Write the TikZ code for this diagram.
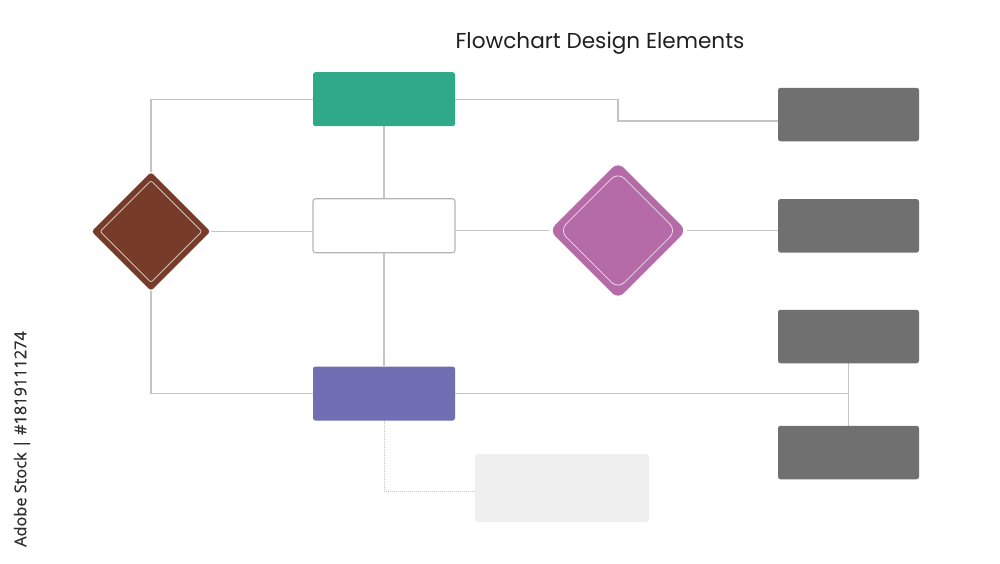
\documentclass[tikz,border=0pt]{standalone}
\usepackage{fontspec}
\setmainfont{Poppins}
\newfontfamily\sidefont[FakeBold=0.6]{Open Sans}
\usetikzlibrary{shapes.geometric,backgrounds}
\definecolor{linegray}{HTML}{C4C4C4}
\definecolor{greenbox}{HTML}{2FA98A}
\definecolor{violetbox}{HTML}{716FB4}
\definecolor{darkbox}{HTML}{707070}
\definecolor{palebox}{HTML}{EFEFEF}
\definecolor{brownd}{HTML}{763B29}
\definecolor{pinkd}{HTML}{B56BA8}
\definecolor{whiteborder}{HTML}{B4B4B4}
\begin{document}
\begin{tikzpicture}[x=1pt,y=-1pt,
  conn/.style={draw=linegray, line width=1.4pt},
  dotconn/.style={draw=linegray, line width=1pt, densely dotted},
  box/.style={rectangle, rounded corners=2.5pt, minimum width=142pt, minimum height=54pt, inner sep=0pt},
  darkrect/.style={rectangle, rounded corners=2.5pt, fill=darkbox, minimum width=141pt, minimum height=53.5pt, inner sep=0pt},
  dia/.style={diamond, aspect=1, inner sep=0pt}]
\useasboundingbox (0,0) rectangle (1000,563);

% title
\node[font=\fontsize{21.6}{26}\selectfont, text=black!88] (title) at (600,43) {Flowchart Design Elements};

% side text
\node[font=\sidefont\fontsize{16.3}{19}\selectfont, text=black!82, rotate=90] (side) at (22,439) {Adobe Stock | \#1819111274};

% boxes
\node[box, fill=greenbox] (green) at (384,99.2) {};
\node[box, fill=white, draw=whiteborder, line width=1.1pt] (white) at (384,225.7) {};
\node[box, fill=violetbox] (violet) at (384,393.5) {};
\node[rectangle, rounded corners=3pt, fill=palebox, minimum width=174pt, minimum height=68pt, inner sep=0pt] (pale) at (562,488) {};

\node[darkrect] (g1) at (848.5,114.5) {};
\node[darkrect] (g2) at (848.5,225.8) {};
\node[darkrect] (g3) at (848.5,336.5) {};
\node[darkrect] (g4) at (848.5,452.5) {};

% diamonds
\node[dia, fill=brownd, rounded corners=3pt, minimum width=119pt, minimum height=119pt] (brown) at (151,231.5) {};
\node[dia, draw=white!80!brownd, line width=0.7pt, rounded corners=2pt, minimum width=102pt, minimum height=102pt] (browninner) at (151,231.5) {};
\node[dia, fill=pinkd, rounded corners=8pt, minimum width=137pt, minimum height=137pt] (pink) at (618,230.5) {};
\node[dia, draw=white!75!pinkd, line width=0.8pt, rounded corners=9pt, minimum width=117pt, minimum height=117pt] (pinkinner) at (618,230.5) {};

\coordinate (g1in) at ([yshift=-6.5pt]g1.west);
\coordinate (palein) at ([yshift=-3pt]pale.west);
\coordinate (joint) at (g3.south |- violet.east);

\begin{scope}[on background layer]
  \fill[white] (0,0) rectangle (1000,563);
  \draw[conn] (brown.north) |- (green.west);
  \draw[conn] (green.east) -| (pink.north |- g1in) -- (g1in);
  \draw[conn] (green.south) -- (white.north);
  \draw[conn] (brown.east) -- (brown.east -| white.west);
  \draw[conn] (white.east |- pink.west) -- (pink.west);
  \draw[conn] (pink.east) -- (pink.east -| g2.west);
  \draw[conn] (white.south) -- (violet.north);
  \draw[conn] (brown.south) |- (violet.west);
  \draw[conn] (violet.east) -- (joint);
  \draw[conn] (g3.south) -- (g4.north);
  \draw[dotconn] (violet.south) |- (palein);
\end{scope}
\end{tikzpicture}
\end{document}
